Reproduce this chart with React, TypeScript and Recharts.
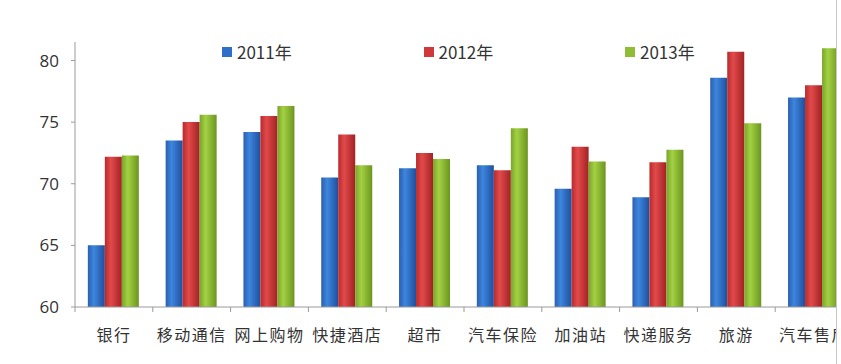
import { Bar, BarChart, Legend, XAxis, YAxis } from "recharts";

const categories = ["银行", "移动通信", "网上购物", "快捷酒店", "超市", "汽车保险", "加油站", "快递服务", "旅游", "汽车售后"];
const y2011 = [65.0, 73.5, 74.2, 70.5, 71.25, 71.5, 69.6, 68.9, 78.6, 77.0];
const y2012 = [72.2, 75.0, 75.5, 74.0, 72.5, 71.1, 73.0, 71.75, 80.7, 78.0];
const y2013 = [72.3, 75.6, 76.3, 71.5, 72.0, 74.5, 71.8, 72.75, 74.9, 81.0];
const yTicks = [60, 65, 70, 75, 80];

const series = [
  { key: "y2011", name: "2011年", grad: "gBlue", color: "#2f6fc9" },
  { key: "y2012", name: "2012年", grad: "gRed", color: "#d0393b" },
  { key: "y2013", name: "2013年", grad: "gGreen", color: "#8fbd34" },
];

const data = categories.map((name, i) => ({
  name,
  y2011: y2011[i],
  y2012: y2012[i],
  y2013: y2013[i],
}));

const CatTick = (props: any) => {
  const { x, y, payload } = props;
  const half = payload.offset ?? 38.9;
  return (
    <g>
      <line x1={x - half} y1={y - 8} x2={x - half} y2={y - 3} stroke="#9a9a9a" />
      <text
        x={x}
        y={y + 26}
        textAnchor="middle"
        fill="#333"
        style={{ fontSize: 16, fontFamily: "'Noto Sans CJK SC', sans-serif", letterSpacing: 1.5 }}
      >
        {payload.value}
      </text>
    </g>
  );
};

const LegendBox = () => (
  <div style={{ display: "flex", fontFamily: "'Noto Sans CJK SC', sans-serif", fontSize: 17, color: "#333" }}>
    {series.map((s) => (
      <div key={s.key} style={{ width: 201.5, display: "flex", alignItems: "center" }}>
        <span style={{ width: 10, height: 10, background: s.color, marginRight: 5, display: "inline-block" }} />
        <span>{s.name}</span>
      </div>
    ))}
  </div>
);

export default function App() {
  return (
    <div style={{ position: "absolute", left: 0, top: 0, width: 836, height: 364, overflow: "hidden", borderRight: "1px solid #c8c8c8", background: "#fff" }}>
      <BarChart
        width={870}
        height={364}
        data={data}
        margin={{ top: 42, right: 17, left: 0, bottom: 0 }}
        barCategoryGap="16.5%"
        barGap={0}
      >
        <defs>
          <linearGradient id="gBlue" x1="0" y1="0" x2="1" y2="0">
            <stop offset="0" stopColor="#2a5fb0" />
            <stop offset="0.35" stopColor="#3d86de" />
            <stop offset="1" stopColor="#1f4f9c" />
          </linearGradient>
          <linearGradient id="gRed" x1="0" y1="0" x2="1" y2="0">
            <stop offset="0" stopColor="#b82a2c" />
            <stop offset="0.35" stopColor="#e24a4a" />
            <stop offset="1" stopColor="#a22224" />
          </linearGradient>
          <linearGradient id="gGreen" x1="0" y1="0" x2="1" y2="0">
            <stop offset="0" stopColor="#7aa52a" />
            <stop offset="0.35" stopColor="#a3d143" />
            <stop offset="1" stopColor="#6b951f" />
          </linearGradient>
        </defs>
        <XAxis
          dataKey="name"
          height={57}
          tickLine={false}
          tick={<CatTick />}
          axisLine={{ stroke: "#9a9a9a" }}
          interval={0}
        />
        <YAxis
          width={75}
          domain={[60, 81.5]}
          ticks={yTicks}
          allowDataOverflow
          tickSize={4}
          tickMargin={12}
          axisLine={{ stroke: "#9a9a9a" }}
          tickLine={{ stroke: "#9a9a9a" }}
          tick={{ fill: "#333", fontSize: 17, fontFamily: "'Open Sans', sans-serif" }}
        />
        <Legend
          verticalAlign="middle"
          align="center"
          content={<LegendBox />}
          wrapperStyle={{ position: "absolute", top: 39, left: 222, width: 620 }}
        />
        {series.map((s) => (
          <Bar key={s.key} dataKey={s.key} name={s.name} fill={`url(#${s.grad})`} isAnimationActive={false} />
        ))}
      </BarChart>
    </div>
  );
}
